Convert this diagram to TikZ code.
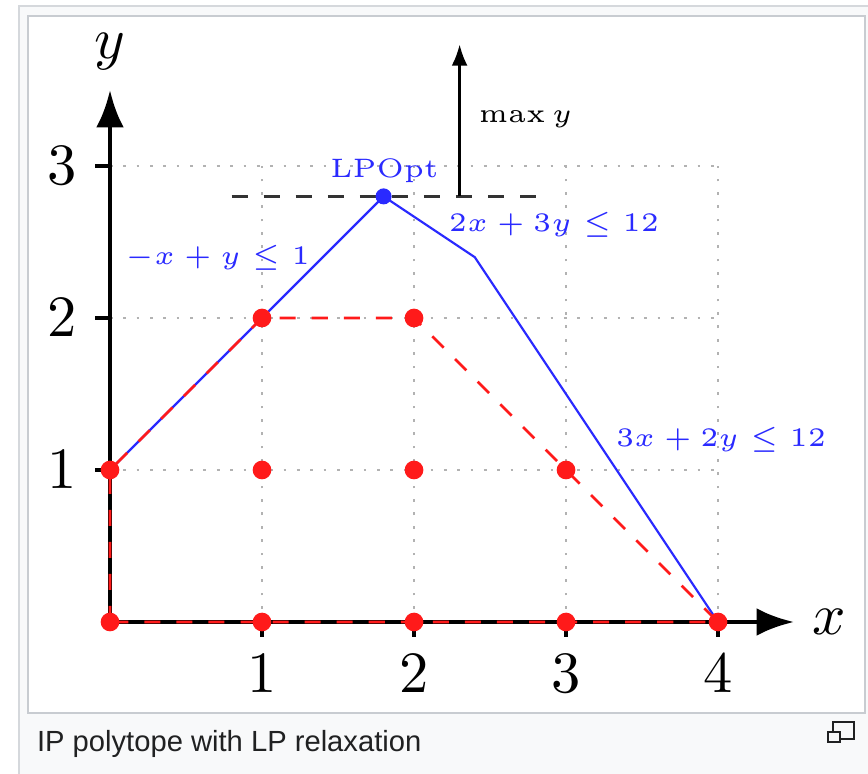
\documentclass[tikz,border=0pt]{standalone}
\usepackage{fontspec}
\newfontfamily\capfont{Liberation Sans}
\usetikzlibrary{arrows.meta}
\definecolor{capgray}{HTML}{202122}
\definecolor{framebg}{HTML}{F8F9FA}
\definecolor{frameline}{HTML}{C8CCD1}
\definecolor{outerline}{HTML}{D5D8DC}
\definecolor{lpblue}{HTML}{2A2AFF}
\definecolor{ipred}{HTML}{FF1A1A}
\begin{document}
\begin{tikzpicture}[x=1cm,y=1cm,
 axis/.style={line width=0.9pt,-{Latex[length=7pt,width=5.2pt]}},
 ticks/.style={line width=0.9pt},
 gridline/.style={gray!60,dotted,line width=0.5pt},
 lpline/.style={lpblue,line width=0.4pt},
 ipline/.style={ipred,dashed,line width=0.5pt},
 ipdot/.style={circle,fill=ipred,inner sep=0pt,minimum size=3.5pt},
 lpdot/.style={circle,fill=lpblue,inner sep=0pt,minimum size=3pt},
 big/.style={font=\fontsize{11}{13}\selectfont, inner sep=0pt},
 small/.style={font=\fontsize{5}{6}\selectfont, inner sep=0pt},
]
\useasboundingbox (-0.72368,-1) rectangle (4.98684,4.09211);
\fill[white] (-0.72368,-1) rectangle (4.98684,4.09211);
\filldraw[fill=framebg,draw=outerline,line width=0.3pt] (-0.5987,-1.2) rectangle (5.2,4.0526);
\filldraw[fill=white,draw=frameline,line width=0.3pt] (-0.5395,-0.5987) rectangle (4.9671,3.9868);

% grid
\draw[gridline] (0,0) grid (4,3);

% coordinates
\coordinate (O) at (0,0);
\coordinate (xend) at (4.5,0);
\coordinate (yend) at (0,3.5);
\coordinate (A01) at (0,1);
\coordinate (A12) at (1,2);
\coordinate (A22) at (2,2);
\coordinate (X4) at (4,0);
\coordinate (LP) at (1.8,2.8);
\coordinate (C) at (2.4,2.4);
\coordinate (D1) at (0.8,2.8);
\coordinate (D2) at (2.8,2.8);
\coordinate (M1) at (2.3,2.8);
\coordinate (M2) at (2.3,3.8);

% axes
\draw[axis] (O) -- (xend);
\draw[axis] (O) -- (yend);
\foreach \i in {1,2,3,4} {\draw[ticks] (\i,0) -- (\i,-0.1);}
\foreach \i in {1,2,3} {\draw[ticks] (0,\i) -- (-0.1,\i);}

% tick labels
\node[big] (tx1) at (1,-0.342) {$1$};
\node[big] (tx2) at (2,-0.342) {$2$};
\node[big] (tx3) at (3,-0.342) {$3$};
\node[big] (tx4) at (4,-0.342) {$4$};
\node[big] (ty1) at (-0.316,1) {$1$};
\node[big] (ty2) at (-0.316,2) {$2$};
\node[big] (ty3) at (-0.316,3) {$3$};
\node[big] (xl) at (4.73,0) {$x$};
\node[big] (yl) at (0,3.75) {$y$};

% objective
\draw[dashed,line width=0.5pt,black!80] (D1) -- (D2);
\draw[line width=0.5pt,-{Latex[length=4pt,width=3pt]}] (M1) -- (M2);
\node[small] (maxy) at (2.734,3.309) {$\max y$};

% LP relaxation
\draw[lpline] (A01) -- (LP) -- (C) -- (X4);
% IP hull
\draw[ipline] (O) -- (A01) -- (A12) -- (A22) -- (X4) -- cycle;

% integer points
\foreach \px/\py in {0/0,1/0,2/0,3/0,4/0,0/1,1/1,2/1,3/1,1/2,2/2}
  {\node[ipdot] (p\px\py) at (\px,\py) {};}
\node[lpdot] (lpopt) at (LP) {};

% labels
\node[small,text=lpblue] (lpl) at (1.806,2.967) {LPOpt};
\node[small,text=lpblue] (c1) at (0.707,2.395) {$-x+y\leq 1$};
\node[small,text=lpblue] (c2) at (2.921,2.612) {$2x+3y\leq 12$};
\node[small,text=lpblue] (c3) at (4.020,1.197) {$3x+2y\leq 12$};

% caption
\node[anchor=base west, inner sep=0pt, font=\capfont\fontsize{5.46}{6.5}\selectfont, text=capgray] (cap) at (-0.4868,-0.8487) {IP polytope with LP relaxation};
\draw[capgray, line width=0.35pt] (4.7566,-0.6579) rectangle (4.8947,-0.7697);
\filldraw[fill=framebg, draw=capgray, line width=0.35pt] (4.7237,-0.7237) rectangle (4.8026,-0.7895);
\end{tikzpicture}
\end{document}
